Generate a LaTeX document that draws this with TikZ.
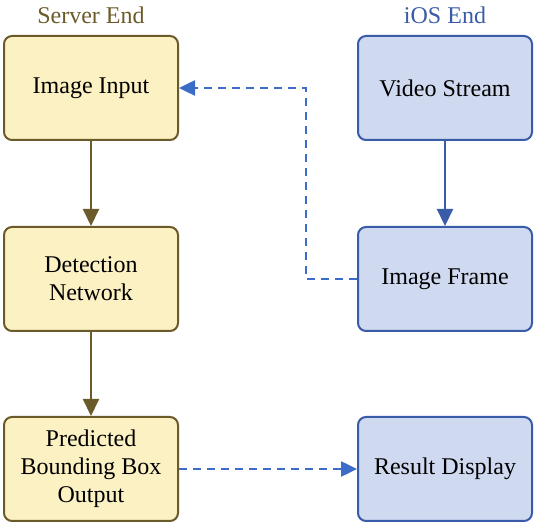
\documentclass[tikz,border=0pt]{standalone}
\usepackage{fontspec}
\setmainfont{Liberation Serif}
\usetikzlibrary{arrows.meta}
\definecolor{srvfill}{HTML}{FCF1C2}
\definecolor{srvline}{HTML}{6B5A2A}
\definecolor{iosfill}{HTML}{CFD9F0}
\definecolor{iosline}{HTML}{3A5BA8}
\definecolor{dashblue}{HTML}{3B6CC8}
\tikzset{
    srvbox/.style={draw=srvline, fill=srvfill, line width=2pt, rounded corners=8pt,
        minimum width=174pt, minimum height=104pt, align=center, font=\fontsize{24}{28}\selectfont},
    iosbox/.style={srvbox, draw=iosline, fill=iosfill},
    srvarrow/.style={draw=srvline, line width=2pt, -{Triangle[length=17pt,width=16pt]}},
    iosarrow/.style={draw=iosline, line width=2pt, -{Triangle[length=17pt,width=16pt]}},
    dasharrow/.style={draw=dashblue, line width=2.5pt, dash pattern=on 8pt off 6pt,
        -{Triangle[length=16pt,width=15pt]}},
    title/.style={font=\fontsize{24}{28}\selectfont}
}
\begin{document}
\begin{tikzpicture}[x=1pt,y=1pt]
    \useasboundingbox (0,0) rectangle (536,-526);
    \node[title, text=srvline] (srv) at (91,-15) {Server End};
    \node[title, text=iosline] (ios) at (445,-15) {iOS End};
    \node[srvbox] (input) at (91,-88) {Image Input};
    \node[srvbox] (detect) at (91,-279) {Detection\\Network};
    \node[srvbox] (pred) at (91,-469) {Predicted\\Bounding Box\\Output};
    \node[iosbox] (video) at (445,-88) {Video Stream};
    \node[iosbox] (frame) at (445,-279) {Image Frame};
    \node[iosbox] (result) at (445,-469) {Result Display};
    \draw[srvarrow] (input) -- (detect);
    \draw[srvarrow] (detect) -- (pred);
    \draw[iosarrow] (video) -- (frame);
    \coordinate (bend) at (306,-279);
    \draw[dasharrow] (frame.west) -- (bend) |- (input.east);
    \draw[dasharrow] (pred) -- (result);
\end{tikzpicture}
\end{document}
